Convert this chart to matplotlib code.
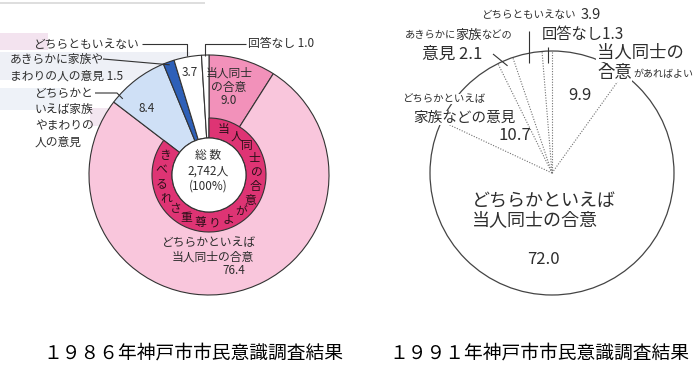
import matplotlib
matplotlib.use("Agg")
import matplotlib.pyplot as plt
from matplotlib.patches import Wedge, Circle, Rectangle
import numpy as np

plt.rcParams["font.family"] = ["Noto Sans CJK JP", "DejaVu Sans"]

W, H = 694, 385

# 1986 survey (clockwise from 12 o'clock)
labels_86 = ["当人同士の合意", "どちらかといえば当人同士の合意",
             "どちらかといえば家族やまわりの人の意見",
             "あきらかに家族やまわりの人の意見", "どちらともいえない", "回答なし"]
values_86 = [9.0, 76.4, 8.4, 1.5, 3.7, 1.0]
colors_86 = ["#f291ba", "#f9c6dc", "#cfe0f6", "#2e60b8", "white", "white"]
ring_text_86 = "当人同士の合意がより尊重されるべき"
total_86 = "2,742人"

# 1991 survey (clockwise from 12 o'clock)
labels_91 = ["当人同士の合意があればよい", "どちらかといえば当人同士の合意",
             "どちらかといえば家族などの意見", "あきらかに家族などの意見",
             "どちらともいえない", "回答なし"]
values_91 = [9.9, 72.0, 10.7, 2.1, 3.9, 1.3]

titles = ["１９８６年神戸市市民意識調査結果", "１９９１年神戸市市民意識調査結果"]

TXT = "#2e2e2e"


def T(x, y, s, **kw):
    kw.setdefault("color", TXT)
    kw.setdefault("va", "center")
    return ax.text(x, H - y, s, **kw)


def line(xs, ys, **kw):
    kw.setdefault("color", "#333333")
    kw.setdefault("lw", 0.8)
    ax.plot(xs, [H - y for y in ys], solid_capstyle="butt", **kw)


def bounds(vals):
    cum = np.cumsum([0] + list(vals)) / sum(vals) * 360
    return 90 - cum


def pt(c, r, ang):
    a = np.deg2rad(ang)
    return c[0] + r * np.cos(a), c[1] + r * np.sin(a)


fig = plt.figure(figsize=(W / 100, H / 100), dpi=100)
ax = fig.add_axes([0, 0, 1, 1])

# faint scan background on the left page
for (x0, y0, w, h, col) in [(0, 33, 48, 17, "#f3e3ef"), (0, 52, 190, 28, "#eef0f6"),
                            (0, 88, 60, 22, "#eef2f8"), (90, 108, 30, 18, "#f3e6f0")]:
    ax.add_patch(Rectangle((x0, H - y0 - h), w, h, fc=col, ec="none", zorder=0))
line([0, 205], [3, 3], color="#d8d8d8", lw=1.2, zorder=0)

# ---------------- 1986 ----------------
c1 = (209, H - 175)
R1, r_in, r_ring = 120, 37, 57
ax.pie(values_86, radius=R1, center=c1, startangle=90, counterclock=False,
       colors=colors_86,
       wedgeprops=dict(width=R1 - r_in, edgecolor="#333333", linewidth=0.8))
b1 = bounds(values_86)
ax.add_patch(Wedge(c1, r_ring, b1[2], 90, width=r_ring - r_in, fc="#de3474",
                   ec="#333333", lw=0.8, zorder=3))
ax.add_patch(Circle(c1, r_in, fc="white", ec="#333333", lw=0.8, zorder=4))

# ring text, upright characters placed along the ring
n = len(ring_text_86)
a0, a1 = 72, -204
for i, ch in enumerate(ring_text_86):
    ang = a0 + (a1 - a0) * i / (n - 1)
    x, y = pt(c1, (r_in + r_ring) / 2 + 1, ang)
    ax.text(x, y, ch, fontsize=8.5, color="#2a1018", ha="center", va="center",
            zorder=5)

T(208, 156, "総 数", fontsize=8.5, ha="center", zorder=6)
T(208, 171, total_86, fontsize=8.5, ha="center", zorder=6)
T(208, 186, "(100%)", fontsize=8.5, ha="center", zorder=6)

T(229, 73, "当人同士", fontsize=8.5, ha="center")
T(229, 88, "の合意", fontsize=8.5, ha="center")
T(229, 101, f"{values_86[0]:.1f}", fontsize=8.5, ha="center")
T(147, 108, f"{values_86[2]:.1f}", fontsize=8.5, ha="center")
T(190, 73, f"{values_86[4]:.1f}", fontsize=8.5, ha="center")
T(256, 242, "どちらかといえば", fontsize=8.5, ha="right")
T(254, 257, "当人同士の合意", fontsize=8.5, ha="right")
T(234, 271, f"{values_86[1]:.1f}", fontsize=8.5, ha="center")

# left labels and leaders
T(140, 44, "どちらともいえない", fontsize=8.5, ha="right")
xe, ye = pt(c1, R1 + 1, (b1[4] + b1[5]) / 2)
line([142, xe, xe], [44, 44, H - ye])
T(248, 44, f"回答なし {values_86[5]:.1f}", fontsize=8.5, ha="left")
xe, ye = pt(c1, R1 - 1, (b1[5] + b1[6]) / 2)
line([246, xe, xe], [44, 44, H - ye])
T(10, 59, "あきらかに家族や", fontsize=8.5, ha="left")
T(10, 76, f"まわりの人の意見 {values_86[3]:.1f}", fontsize=8.5, ha="left")
xe, ye = pt(c1, R1 - 3, (b1[3] + b1[4]) / 2)
line([103, xe], [59, H - ye])
for k, s in enumerate(["どちらかと", "いえば家族", "やまわりの", "人の意見"]):
    T(35, 93 + 16.5 * k, s, fontsize=8.5, ha="left")
xe, ye = pt(c1, R1 - 5, b1[2] - 4)
line([95, 117, xe], [93, 93, H - ye])

# ---------------- 1991 ----------------
c2 = (552, H - 173)
R2 = 122
ax.pie(values_91, radius=R2, center=c2, startangle=90, counterclock=False,
       colors=["white"] * len(values_91), wedgeprops=dict(edgecolor="none"))
ax.add_patch(Circle(c2, R2, fc="none", ec="#444444", lw=0.9, zorder=3))
b2 = bounds(values_91)
for ang in b2[:-1]:
    xe, ye = pt(c2, R2, ang)
    ax.plot([c2[0], xe], [c2[1], ye], color="#707070", lw=0.8,
            linestyle=(0, (1, 1.4)), zorder=3)

# leaders
xe, ye = pt(c2, R2 - 10, (b2[4] + b2[5]) / 2)
line([xe, xe], [31, H - ye], zorder=4)
xe, ye = pt(c2, R2 - 12, (b2[5] + b2[6]) / 2)
line([xe, xe], [47, H - ye], zorder=4)
xe, ye = pt(c2, R2 - 6, (b2[3] + b2[4]) / 2)
line([493, xe], [54, H - ye], zorder=4)

T(528, 15, "どちらともいえない", fontsize=7.6, ha="center")
T(591, 15, f"{values_91[4]:.1f}", fontsize=10.5, ha="center")
T(405, 35, "あきらかに", fontsize=7.4, ha="left")
T(455, 35, "家族", fontsize=9.5, ha="left")
T(481, 35, "などの", fontsize=7.4, ha="left")
T(452, 54, f"意見 {values_91[3]:.1f}", fontsize=12, ha="center")
T(583, 34, f"回答なし{values_91[5]:.1f}", fontsize=11, ha="center")
wb = dict(fc="white", ec="none", pad=0.3)
T(640, 53, "当人同士の", fontsize=12.5, ha="center", bbox=wb, zorder=5)
T(597, 73, "合意", fontsize=12.5, ha="left", bbox=wb, zorder=5)
T(633, 74, "があればよい", fontsize=7.2, ha="left", bbox=wb, zorder=5)
T(580, 96, f"{values_91[0]:.1f}", fontsize=12, ha="center")
T(444, 99, "どちらかといえば", fontsize=7.5, ha="center", bbox=wb, zorder=5)
T(464, 118, "家族などの意見", fontsize=10.5, ha="center", bbox=wb, zorder=5)
T(515, 136, f"{values_91[2]:.1f}", fontsize=12, ha="center")
T(472, 201, "どちらかといえば", fontsize=13, ha="left")
T(472, 220, "当人同士の合意", fontsize=13, ha="left")
T(543, 259, f"{values_91[1]:.1f}", fontsize=12, ha="center")

# titles
T(193, 353, titles[0], fontsize=13.5, ha="center", color="black")
T(539, 353, titles[1], fontsize=13.5, ha="center", color="black")

ax.set_xlim(0, W)
ax.set_ylim(0, H)
ax.set_aspect("equal")
ax.axis("off")
fig.savefig("out.png", dpi=100)
